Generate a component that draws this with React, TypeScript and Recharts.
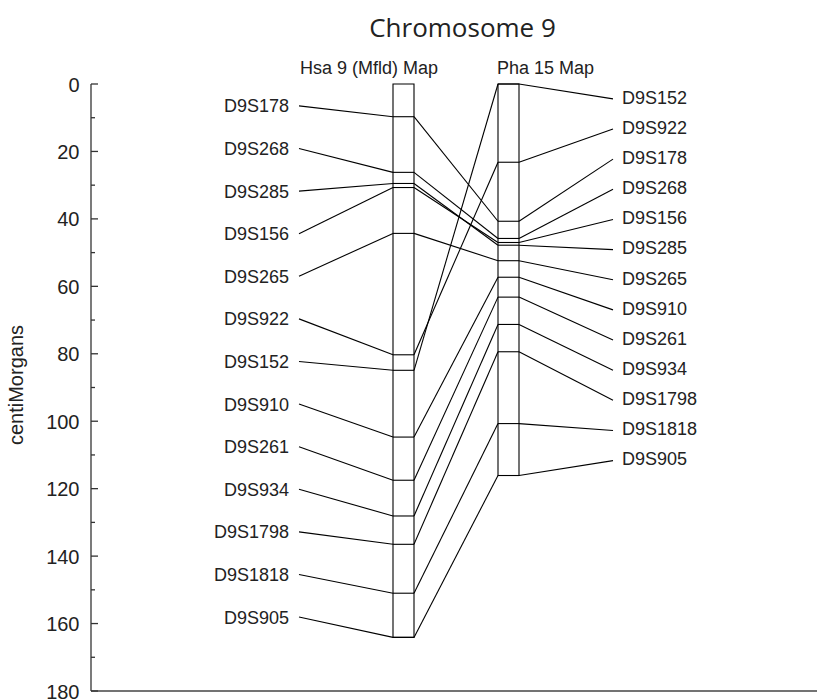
import { ScatterChart, Scatter, XAxis, YAxis, ReferenceLine, ReferenceArea } from 'recharts';

// Marker order and positions (cM) on each map
const hsaMarkers = ['D9S178', 'D9S268', 'D9S285', 'D9S156', 'D9S265', 'D9S922', 'D9S152', 'D9S910', 'D9S261', 'D9S934', 'D9S1798', 'D9S1818', 'D9S905'];
const hsaCm = [9.7, 26.2, 29.5, 30.7, 44.3, 80.3, 84.9, 104.7, 117.5, 128.1, 136.5, 151.0, 164.1];

const phaMarkers = ['D9S152', 'D9S922', 'D9S178', 'D9S268', 'D9S156', 'D9S285', 'D9S265', 'D9S910', 'D9S261', 'D9S934', 'D9S1798', 'D9S1818', 'D9S905'];
const phaCm = [0, 23.2, 40.7, 45.8, 47.0, 47.8, 52.4, 57.3, 63.2, 71.3, 79.4, 100.7, 116.1];

const hsaLength = 164.1;
const phaLength = 116.1;

const yTicks = [0, 10, 20, 30, 40, 50, 60, 70, 80, 90, 100, 110, 120, 130, 140, 150, 160, 170, 180];

// layout (x in plot units, which line up with pixels here)
const HSA_BAR = [393, 414];
const PHA_BAR = [498, 519];
const HSA_LABEL_X = 289;
const HSA_LINE_X = 299;
const PHA_LABEL_X = 622;
const PHA_LINE_X = 613;
const HSA_SLOT = { start: 6.5, step: 12.63 };
const PHA_SLOT = { start: 3.9, step: 8.94 };

const SANS = '"Liberation Sans", Arial, Helvetica, sans-serif';

const hsaLabels = hsaMarkers.map((name, i) => ({ x: HSA_LABEL_X, y: HSA_SLOT.start + i * HSA_SLOT.step, name }));
const phaLabels = phaMarkers.map((name, i) => ({ x: PHA_LABEL_X, y: PHA_SLOT.start + i * PHA_SLOT.step, name }));

function YTick(props: any) {
  const { x, y, payload } = props;
  const major = payload.value % 20 === 0;
  return (
    <g>
      <line x1={x} x2={x + (major ? 7 : 4)} y1={y} y2={y} stroke="#333" strokeWidth={1.3} />
      {major && (
        <text x={x - 11.5} y={y + 7.5} textAnchor="end" fontFamily={SANS} fontSize={20} fill="#222">
          {payload.value}
        </text>
      )}
    </g>
  );
}

const labelShape = (anchor: 'start' | 'end') => (p: any) => (
  <text x={p.cx} y={p.cy + 6.5} textAnchor={anchor} fontFamily={SANS} fontSize={18} fill="#222">
    {p.payload.name}
  </text>
);

export default function App() {
  const line = { stroke: '#000', strokeWidth: 1.1 };
  return (
    <div style={{ position: 'absolute', left: 0, top: 0, background: '#fff' }}>
      <ScatterChart width={817} height={700} margin={{ top: 84, right: 0, bottom: 7, left: 0 }}>
        <XAxis
          type="number"
          dataKey="x"
          domain={[91, 817]}
          allowDataOverflow
          height={2}
          tick={false}
          tickLine={false}
          axisLine={{ stroke: '#444', strokeWidth: 1.6 }}
        />
        <YAxis
          type="number"
          dataKey="y"
          domain={[0, 180]}
          allowDataOverflow
          reversed
          ticks={yTicks}
          interval={0}
          width={91}
          tickSize={0}
          tickMargin={0}
          tickLine={false}
          tick={<YTick />}
          axisLine={{ stroke: '#333', strokeWidth: 1.3 }}
        />

        {/* map bars */}
        <ReferenceArea x1={HSA_BAR[0]} x2={HSA_BAR[1]} y1={0} y2={hsaLength} fill="none" stroke="#000" strokeWidth={1.1} />
        <ReferenceArea x1={PHA_BAR[0]} x2={PHA_BAR[1]} y1={0} y2={phaLength} fill="none" stroke="#000" strokeWidth={1.1} />

        {/* marker ticks across bars */}
        {hsaCm.map((cm, i) => (
          <ReferenceLine key={'hb' + i} segment={[{ x: HSA_BAR[0], y: cm }, { x: HSA_BAR[1], y: cm }]} {...line} />
        ))}
        {phaCm.map((cm, i) => (
          <ReferenceLine key={'pb' + i} segment={[{ x: PHA_BAR[0], y: cm }, { x: PHA_BAR[1], y: cm }]} {...line} />
        ))}

        {/* label connectors */}
        {hsaCm.map((cm, i) => (
          <ReferenceLine key={'hl' + i} segment={[{ x: HSA_LINE_X, y: hsaLabels[i].y }, { x: HSA_BAR[0], y: cm }]} {...line} />
        ))}
        {phaCm.map((cm, i) => (
          <ReferenceLine key={'pl' + i} segment={[{ x: PHA_BAR[1], y: cm }, { x: PHA_LINE_X, y: phaLabels[i].y + 0.5 }]} {...line} />
        ))}

        {/* links between the two maps */}
        {hsaMarkers.map((name, i) => (
          <ReferenceLine
            key={'ln' + i}
            segment={[{ x: HSA_BAR[1], y: hsaCm[i] }, { x: PHA_BAR[0], y: phaCm[phaMarkers.indexOf(name)] }]}
            {...line}
          />
        ))}

        <Scatter data={hsaLabels} shape={labelShape('end')} isAnimationActive={false} />
        <Scatter data={phaLabels} shape={labelShape('start')} isAnimationActive={false} />

        <text x={462.5} y={37} textAnchor="middle" fontFamily='"Open Sans", sans-serif' fontSize={26} fill="#222">
          Chromosome 9
        </text>
        <text x={300} y={74} fontFamily={SANS} fontSize={18} fill="#222">
          Hsa 9 (Mfld) Map
        </text>
        <text x={497} y={74} fontFamily={SANS} fontSize={18} fill="#222">
          Pha 15 Map
        </text>
        <text
          x={16}
          y={385}
          transform="rotate(-90 16 385)"
          textAnchor="middle"
          dominantBaseline="central"
          fontFamily={SANS}
          fontSize={20}
          fill="#222"
        >
          centiMorgans
        </text>
      </ScatterChart>
    </div>
  );
}
